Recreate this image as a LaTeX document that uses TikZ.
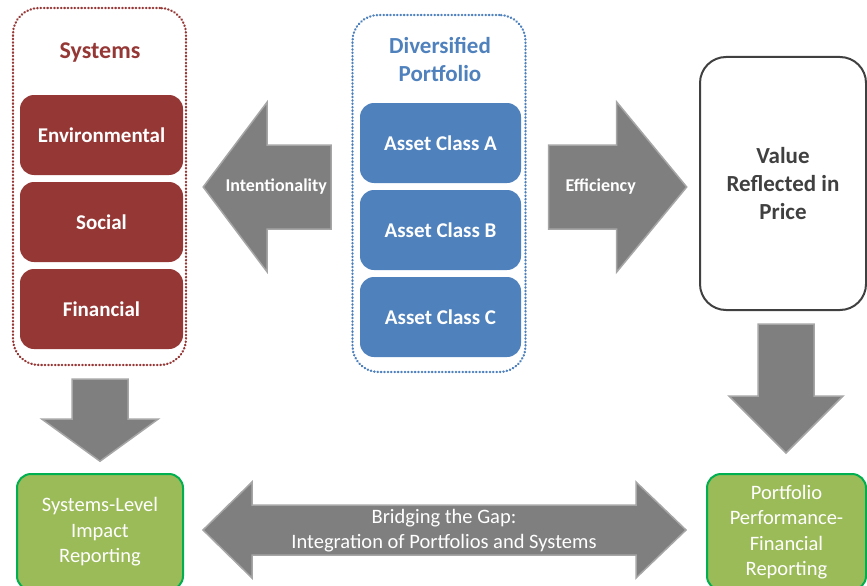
\documentclass[tikz,border=0pt]{standalone}
\usepackage{fontspec}
\setmainfont{Carlito}
\definecolor{sysred}{HTML}{953735}
\definecolor{portblue}{HTML}{4F81BD}
\definecolor{reportgreen}{HTML}{9BBB59}
\definecolor{reportedge}{HTML}{00B050}
\definecolor{arrowgray}{HTML}{7F7F7F}
\definecolor{arrowedge}{HTML}{A6A6A6}
\definecolor{valuegray}{HTML}{404040}

\begin{document}
\begin{tikzpicture}[x=1pt, y=-1pt,
    dotframe/.style={draw=#1, line width=2.4pt, dash pattern=on 0.4pt off 3pt, line cap=round,
        rounded corners=26pt, minimum width=173pt, minimum height=357pt},
    tile/.style={fill=#1, rounded corners=14pt, minimum width=163pt, minimum height=80pt,
        text=white, font=\fontsize{21}{25}\selectfont\bfseries},
    report/.style={fill=reportgreen, draw=reportedge, line width=2pt, rounded corners=14pt,
        minimum height=116pt, text=white, align=center, font=\fontsize{20.5}{25.5}\selectfont},
    fatarrow/.style={fill=arrowgray, draw=arrowedge, line width=1.5pt, line join=miter},
    arrowtext/.style={text=white, inner sep=0pt, font=\fontsize{18}{22}\selectfont\bfseries}]
    \useasboundingbox (0,0) rectangle (867,586);

    % Systems
    \node[dotframe=sysred] (systems) at (99.5,186.5) {};
    \node[text=sysred, font=\fontsize{24}{28}\selectfont\bfseries] (systitle) at (100,53) {Systems};
    \node[tile=sysred] (env) at (101.5,135) {Environmental};
    \node[tile=sysred] (soc) at (101.5,222) {Social};
    \node[tile=sysred] (fin) at (101.5,309) {Financial};

    % Diversified Portfolio
    \node[dotframe=portblue] (portfolio) at (439,193.5) {};
    \node[text=portblue, align=center, font=\fontsize{23}{28}\selectfont\bfseries] (porttitle) at (440,59) {Diversified\\Portfolio};
    \node[tile=portblue, minimum width=161pt] (assetA) at (440.5,143) {Asset Class A};
    \node[tile=portblue, minimum width=161pt] (assetB) at (440.5,230) {Asset Class B};
    \node[tile=portblue, minimum width=161pt] (assetC) at (440.5,317) {Asset Class C};

    % Value Reflected in Price
    \node[draw=valuegray, line width=2pt, rounded corners=26pt, minimum width=166pt, minimum height=253pt,
        text=valuegray, align=center, font=\fontsize{23}{28}\selectfont\bfseries] (value) at (783,183.5) {Value\\Reflected in\\Price};

    % Reporting
    \node[report, minimum width=166pt] (sysreport) at (100,532) {Systems-Level\\Impact\\Reporting};
    \node[report, minimum width=159pt] (portreport) at (786.5,532) {Portfolio\\Performance-\\Financial\\Reporting};

    % Intentionality
    \draw[fatarrow] (systems.east) ++(16,0.5) coordinate (inttip) -- ++(64,-85) -- ++(0,43) -- ++(64,0)
        -- ++(0,84) -- ++(-64,0) -- ++(0,43) -- cycle;
    \node[arrowtext] (intent) at ([xshift=73pt]inttip) {Intentionality};

    % Efficiency
    \draw[fatarrow] (portfolio.east) ++(22,-6.5) coordinate (efftail) -- ++(0,-42) -- ++(68,0) -- ++(0,-43)
        -- ++(70,85) -- ++(-70,85) -- ++(0,-43) -- ++(-68,0) -- cycle;
    \node[arrowtext] (effic) at ([xshift=52pt]efftail) {Efficiency};

    % down arrows
    \draw[fatarrow] (systems.south) ++(0.5,13) -- ++(28,0) -- ++(0,40) -- ++(30,0) -- ++(-58,42)
        -- ++(-58,-42) -- ++(30,0) -- ++(0,-40) -- cycle;
    \draw[fatarrow] (value.south) ++(3,13) -- ++(28,0) -- ++(0,72) -- ++(29,0) -- ++(-57,57)
        -- ++(-57,-57) -- ++(29,0) -- ++(0,-72) -- cycle;

    % Bridging the gap
    \draw[fatarrow] (sysreport.east) ++(19,-2) coordinate (bridgetip) -- ++(49,-48) -- ++(0,23) -- ++(384,0)
        -- ++(0,-23) -- ++(50,48) -- ++(-50,48) -- ++(0,-23) -- ++(-384,0) -- ++(0,23) -- cycle;
    \node[text=white, align=center, font=\fontsize{20.5}{25}\selectfont] (bridge) at ([xshift=241pt,yshift=-0.5pt]bridgetip)
        {Bridging the Gap:\\Integration of Portfolios and Systems};
\end{tikzpicture}
\end{document}
